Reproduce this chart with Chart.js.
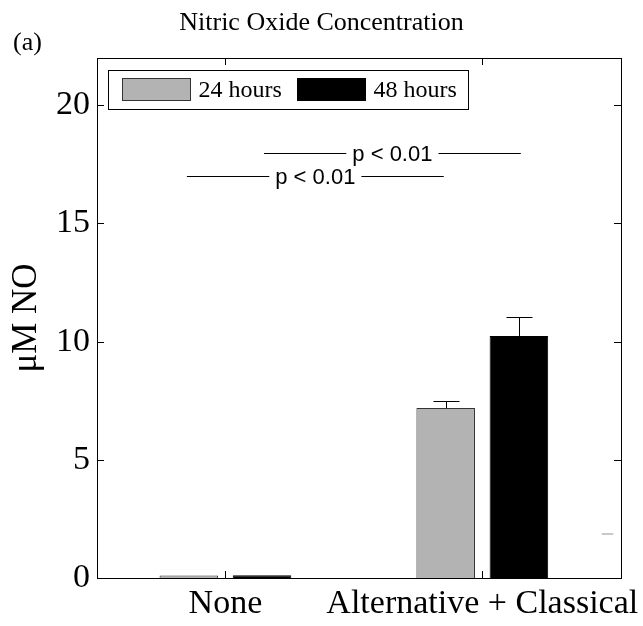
<!DOCTYPE html>
<html>
<head>
<meta charset="utf-8">
<script src="https://cdn.jsdelivr.net/npm/chart.js@4.4.0/dist/chart.umd.min.js"></script>
<style>
  html, body { margin: 0; padding: 0; background: #fff; }
  #wrap { width: 643px; height: 626px; }
</style>
</head>
<body>
<div id="wrap"><canvas id="noChart"></canvas></div>
<script>
let categories = ["None", "Alternative + Classical"];
let groupPos = [1, 2];
let hours24 = [0.11, 7.19];
let hours48 = [0.12, 10.24];
let err24 = [0, 0.3];
let err48 = [0, 0.8];
let yTicks = [0, 5, 10, 15, 20];
let xLimits = [0.5, 2.54];
// significance brackets: start/end on the group axis, height in uM
let pFrom = [0.85, 1.15];
let pTo = [1.85, 2.15];
let pAt = [17, 18];
let pText = ["p < 0.01", "p < 0.01"];
// stray grey dash near the right edge of the original figure
let strayX = [2.465, 2.51];
let strayY = 1.86;

const serif = "'Liberation Serif', 'Times New Roman', serif";
const sans = "'Liberation Sans', Arial, sans-serif";

// matlab style extras: box, inward ticks, error bars, legend, p-value lines
const figureExtras = {
  id: "figureExtras",
  afterDatasetsDraw(chart) {
    let ctx = chart.ctx;
    let y = chart.scales.y;
    let errs = [err24, err48];
    ctx.save();
    ctx.strokeStyle = "#000";
    ctx.lineWidth = 1;
    chart.data.datasets.forEach((ds, i) => {
      let meta = chart.getDatasetMeta(i);
      meta.data.forEach((bar, j) => {
        let e = errs[i][j];
        if (!e) return;
        let top = Math.round(y.getPixelForValue(ds.data[j].y + e)) + 0.5;
        let bx = Math.round(bar.x) + 0.5;
        ctx.beginPath();
        ctx.moveTo(bx, bar.y);
        ctx.lineTo(bx, top);
        ctx.moveTo(bx - 13, top);
        ctx.lineTo(bx + 13, top);
        ctx.stroke();
      });
    });
    ctx.restore();
  },
  afterDraw(chart) {
    let ctx = chart.ctx;
    let a = chart.chartArea;
    let x = chart.scales.x;
    let y = chart.scales.y;
    ctx.save();

    // box
    ctx.strokeStyle = "#000";
    ctx.lineWidth = 1;
    ctx.strokeRect(Math.round(a.left) + 0.5, Math.round(a.top) + 0.5,
      Math.round(a.right - a.left), Math.round(a.bottom - a.top));

    // inward ticks
    ctx.beginPath();
    yTicks.forEach(v => {
      let py = Math.round(y.getPixelForValue(v)) + 0.5;
      ctx.moveTo(a.left, py); ctx.lineTo(a.left + 7, py);
      ctx.moveTo(a.right, py); ctx.lineTo(a.right - 7, py);
    });
    groupPos.forEach(v => {
      let px = Math.round(x.getPixelForValue(v)) + 0.5;
      ctx.moveTo(px, a.bottom); ctx.lineTo(px, a.bottom - 7);
      ctx.moveTo(px, a.top); ctx.lineTo(px, a.top + 7);
    });
    ctx.stroke();

    // p-value brackets
    ctx.font = "22px " + sans;
    ctx.fillStyle = "#000";
    ctx.textAlign = "center";
    ctx.textBaseline = "middle";
    pText.forEach((t, i) => {
      let x1 = x.getPixelForValue(pFrom[i]);
      let x2 = x.getPixelForValue(pTo[i]);
      let py = Math.round(y.getPixelForValue(pAt[i])) + 0.5;
      let mid = (x1 + x2) / 2;
      let half = ctx.measureText(t).width / 2 + 6;
      ctx.beginPath();
      ctx.moveTo(x1, py); ctx.lineTo(mid - half, py);
      ctx.moveTo(mid + half, py); ctx.lineTo(x2, py);
      ctx.stroke();
      ctx.fillText(t, mid, py + 1);
    });

    // stray dash
    ctx.strokeStyle = "#c8c8c8";
    ctx.lineWidth = 2;
    ctx.beginPath();
    let sy = Math.round(y.getPixelForValue(strayY));
    ctx.moveTo(x.getPixelForValue(strayX[0]), sy);
    ctx.lineTo(x.getPixelForValue(strayX[1]), sy);
    ctx.stroke();

    // legend inside the plot
    let lx = Math.round(a.left) + 11.5;
    let ly = Math.round(a.top) + 12.5;
    ctx.lineWidth = 1;
    ctx.strokeStyle = "#000";
    ctx.fillStyle = "#fff";
    ctx.fillRect(lx, ly, 360, 39);
    ctx.strokeRect(lx, ly, 360, 39);
    ctx.font = "24px " + serif;
    ctx.textAlign = "left";
    ctx.textBaseline = "middle";
    let sx = lx + 14;
    chart.data.datasets.forEach(ds => {
      ctx.fillStyle = ds.backgroundColor;
      ctx.fillRect(sx, ly + 8, 68, 22);
      ctx.strokeStyle = ds.borderColor;
      ctx.strokeRect(sx, ly + 8, 68, 22);
      ctx.fillStyle = "#000";
      ctx.fillText(ds.label, sx + 76, ly + 20);
      sx += 175;
    });

    // panel letter
    ctx.font = "26px " + serif;
    ctx.textBaseline = "alphabetic";
    ctx.fillText("(a)", 13, 50);
    ctx.restore();
  }
};

const toPoints = (vals) => vals.map((v, i) => ({ x: groupPos[i], y: v }));

new Chart(document.querySelector("#noChart"), {
  type: "bar",
  data: {
    datasets: [
      {
        label: "24 hours",
        data: toPoints(hours24),
        backgroundColor: "#b3b3b3",
        borderColor: "#333333",
        borderWidth: 1,
        categoryPercentage: 0.57,
        barPercentage: 0.8,
      },
      {
        label: "48 hours",
        data: toPoints(hours48),
        backgroundColor: "#000000",
        borderColor: "#000000",
        borderWidth: 1,
        categoryPercentage: 0.57,
        barPercentage: 0.8,
      },
    ],
  },
  options: {
    responsive: true,
    maintainAspectRatio: false,
    animation: false,
    layout: { padding: 0 },
    scales: {
      x: {
        type: "linear",
        offset: false,
        min: xLimits[0],
        max: xLimits[1],
        grid: { display: false, drawTicks: false },
        border: { display: false },
        afterBuildTicks: (s) => { s.ticks = groupPos.map(v => ({ value: v })); },
        afterFit: (s) => {
          s.height = 48;
          s.paddingLeft = 0;
          s.paddingRight = 0;
        },
        ticks: {
          color: "#000",
          padding: 6,
          maxRotation: 0,
          autoSkip: false,
          font: { size: 34, family: serif },
          callback: (v) => categories[groupPos.indexOf(v)],
        },
      },
      y: {
        min: 0,
        max: 22,
        grid: { display: false, drawTicks: false },
        border: { display: false },
        afterFit: (s) => { s.width = 97; },
        afterBuildTicks: (s) => { s.ticks = yTicks.map(v => ({ value: v })); },
        ticks: {
          color: "#000",
          padding: 7,
          font: { size: 34, family: serif },
        },
        title: {
          display: true,
          text: "μM NO",
          color: "#000",
          padding: { top: 6, bottom: 0 },
          font: { size: 35, family: serif },
        },
      },
      // empty right axis, only keeps the right margin
      yRight: {
        position: "right",
        min: 0,
        max: 22,
        grid: { display: false, drawTicks: false },
        border: { display: false },
        ticks: { display: false },
        afterFit: (s) => { s.width = 22; },
      },
    },
    plugins: {
      legend: { display: false },
      tooltip: { enabled: false },
      title: {
        display: true,
        text: "Nitric Oxide Concentration",
        color: "#000",
        padding: { top: 8, bottom: 18.8 },
        font: { size: 26, family: serif, weight: "normal", lineHeight: 1.2 },
      },
    },
  },
  plugins: [figureExtras],
});
</script>
</body>
</html>
